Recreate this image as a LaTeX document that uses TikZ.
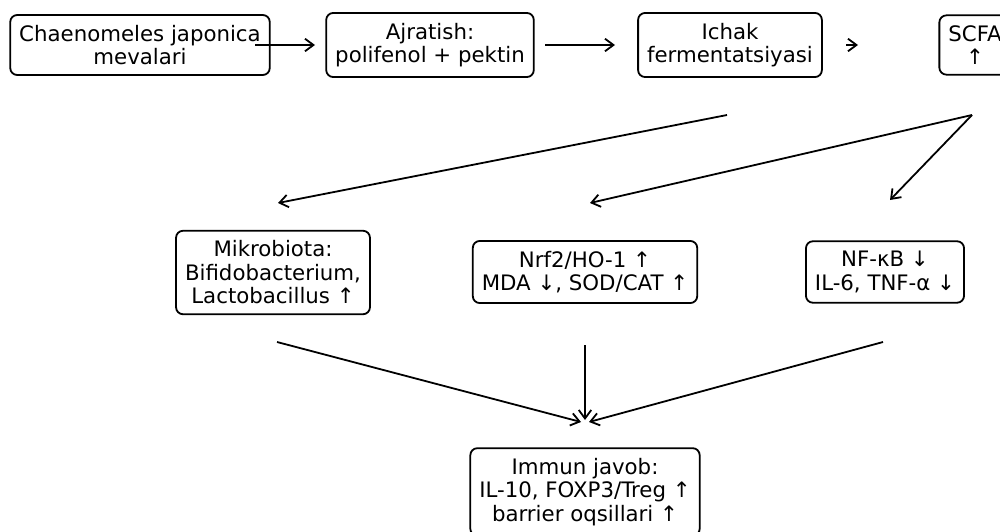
\documentclass[tikz,border=0pt]{standalone}
\usepackage{fontspec}
\setmainfont{DejaVu Sans}
\usetikzlibrary{arrows.meta}
\tikzset{
	stagebox/.style={draw, line width=1.8pt, rounded corners=7pt, align=center, inner xsep=9pt, inner ysep=10pt, font=\fontsize{21.3}{23.5}\selectfont},
	flow/.style={-{Straight Barb[length=8.5pt,width=12.5pt]}, line width=1.8pt}
}
\begin{document}
\begin{tikzpicture}[x=1pt, y=-1pt]
	\useasboundingbox (0,0) rectangle (1000,532);
	\clip (0,0) rectangle (1000,532);
	\node [stagebox] (fruit) at (140,45) {Chaenomeles japonica\\mevalari};
	\node [stagebox] (extract) at (430,45) {Ajratish:\\polifenol + pektin};
	\node [stagebox] (ferment) at (730,45) {Ichak\\fermentatsiyasi};
	\node [stagebox] (scfa) at (975,45) {SCFA\\↑};
	\node [stagebox] (microbiota) at (273,272.5) {Mikrobiota:\\Bifidobacterium,\\Lactobacillus ↑};
	\node [stagebox] (nrf) at (585,272) {Nrf2/HO-1 ↑\\MDA ↓, SOD/CAT ↑};
	\node [stagebox] (nfkb) at (885,272) {NF-κB ↓\\IL-6, TNF-α ↓};
	\node [stagebox] (immune) at (585,492) {Immun javob:\\IL-10, FOXP3/Treg ↑\\barrier oqsillari ↑};
	\coordinate (fruitout) at (255,45);
	\coordinate (extractin) at (315,45);
	\coordinate (extractout) at (545,45);
	\coordinate (fermentin) at (615,45);
	\coordinate (fermentout) at (846,45);
	\coordinate (scfain) at (858,45);
	\coordinate (fermentbelow) at (727,115);
	\coordinate (scfabelow) at (972,115);
	\coordinate (microbiotain) at (278,203);
	\coordinate (nrfin) at (590,203);
	\coordinate (nfkbin) at (890,200);
	\coordinate (microbiotaout) at (277,342);
	\coordinate (nrfout) at (585,345);
	\coordinate (nfkbout) at (883,342);
	\coordinate (immuneinl) at (581,422);
	\coordinate (immuneinc) at (585,420);
	\coordinate (immuneinr) at (589,422);
	\draw [flow] (fruitout) -- (extractin);
	\draw [flow] (extractout) -- (fermentin);
	\draw [flow] (fermentout) -- (scfain);
	\draw [flow] (fermentbelow) -- (microbiotain);
	\draw [flow] (scfabelow) -- (nrfin);
	\draw [flow] (scfabelow) -- (nfkbin);
	\draw [flow] (microbiotaout) -- (immuneinl);
	\draw [flow] (nrfout) -- (immuneinc);
	\draw [flow] (nfkbout) -- (immuneinr);
\end{tikzpicture}
\end{document}
